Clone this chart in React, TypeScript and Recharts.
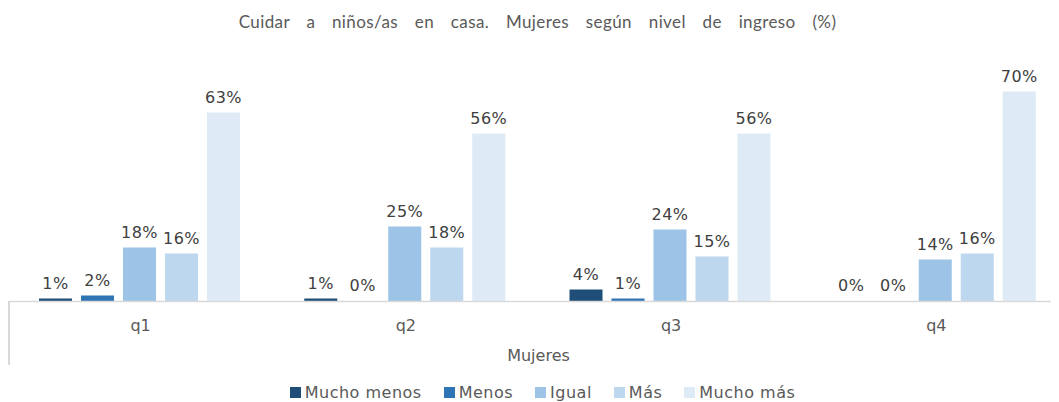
import React from 'react';
import { BarChart, Bar, XAxis, YAxis, LabelList, Legend } from 'recharts';

const categories = ['q1', 'q2', 'q3', 'q4'];
const seriesNames = ['Mucho menos', 'Menos', 'Igual', 'Más', 'Mucho más'];
const muchoMenos = [1, 1, 4, 0];
const menos = [2, 0, 1, 0];
const igual = [18, 25, 24, 14];
const mas = [16, 18, 15, 16];
const muchoMas = [63, 56, 56, 70];
const seriesValues = [muchoMenos, menos, igual, mas, muchoMas];
const seriesColors = ['#1F4E79', '#2E75B6', '#9DC3E6', '#BDD7EE', '#DEEBF7'];
const title = 'Cuidar a niños/as en casa. Mujeres según nivel de ingreso (%)';
const axisTitle = 'Mujeres';

const data = categories.map((c, i) => {
  const row: Record<string, string | number> = { cat: c };
  seriesNames.forEach((s, j) => {
    row[s] = seriesValues[j][i];
  });
  return row;
});

const FONT = 'DejaVu Sans, Verdana, sans-serif';

const renderLegend = () => (
  <div style={{ display: 'flex', justifyContent: 'center', alignItems: 'center', height: 20, fontFamily: FONT, fontSize: 16, letterSpacing: 0.5, color: '#595959', paddingLeft: 8 }}>
    {seriesNames.map((s, i) => (
      <div key={s} style={{ display: 'flex', alignItems: 'center', marginRight: i < seriesNames.length - 1 ? 22 : 0 }}>
        <div style={{ width: 11, height: 11, background: seriesColors[i], marginRight: 4 }} />
        <span>{s}</span>
      </div>
    ))}
  </div>
);

const renderValueLabel = (props: any) => {
  const { x, y, width, height, value } = props;
  if (value === undefined || value === null) return null;
  const top = Math.min(Number(y), Number(y) + Number(height || 0));
  return (
    <text x={Number(x) + Number(width) / 2} y={top - 10} textAnchor="middle" fill="#404040" fontSize={16} fontFamily={FONT} letterSpacing={0.5}>
      {`${value}%`}
    </text>
  );
};

export default function App() {
  return (
    <div style={{ position: 'relative', width: 1051, height: 394, overflow: 'hidden', background: '#fff' }}>
      <div style={{ position: 'absolute', top: 3, left: 0, width: 1059, textAlign: 'center', fontFamily: 'Lato, sans-serif', fontSize: 17, color: '#595959', wordSpacing: 12, letterSpacing: 0.4, zIndex: 2 }}>
        {title}
      </div>
      <div style={{ position: 'absolute', left: 0, top: 293, width: 1.5, height: 64, background: '#D9D9D9', zIndex: 2 }} />
      <BarChart width={1061} height={394} data={data} margin={{ top: 53.5, right: 0, left: 0, bottom: 0 }} barCategoryGap={31} barGap={9}>
        <XAxis
          dataKey="cat"
          tickLine={false}
          axisLine={{ stroke: '#D9D9D9', strokeWidth: 1.5 }}
          tick={{ fill: '#595959', fontSize: 16, fontFamily: FONT }}
          tickMargin={12}
          height={80.5}
          label={{ value: axisTitle, position: 'insideBottom', offset: 21, fill: '#595959', fontSize: 16, fontFamily: FONT }}
        />
        <YAxis hide domain={[0, 80]} />
        <Legend verticalAlign="bottom" content={renderLegend} />
        {seriesNames.map((s, i) => (
          <Bar key={s} dataKey={s} fill={seriesColors[i]} minPointSize={0.01} isAnimationActive={false}>
            <LabelList dataKey={s} content={renderValueLabel} />
          </Bar>
        ))}
      </BarChart>
    </div>
  );
}
